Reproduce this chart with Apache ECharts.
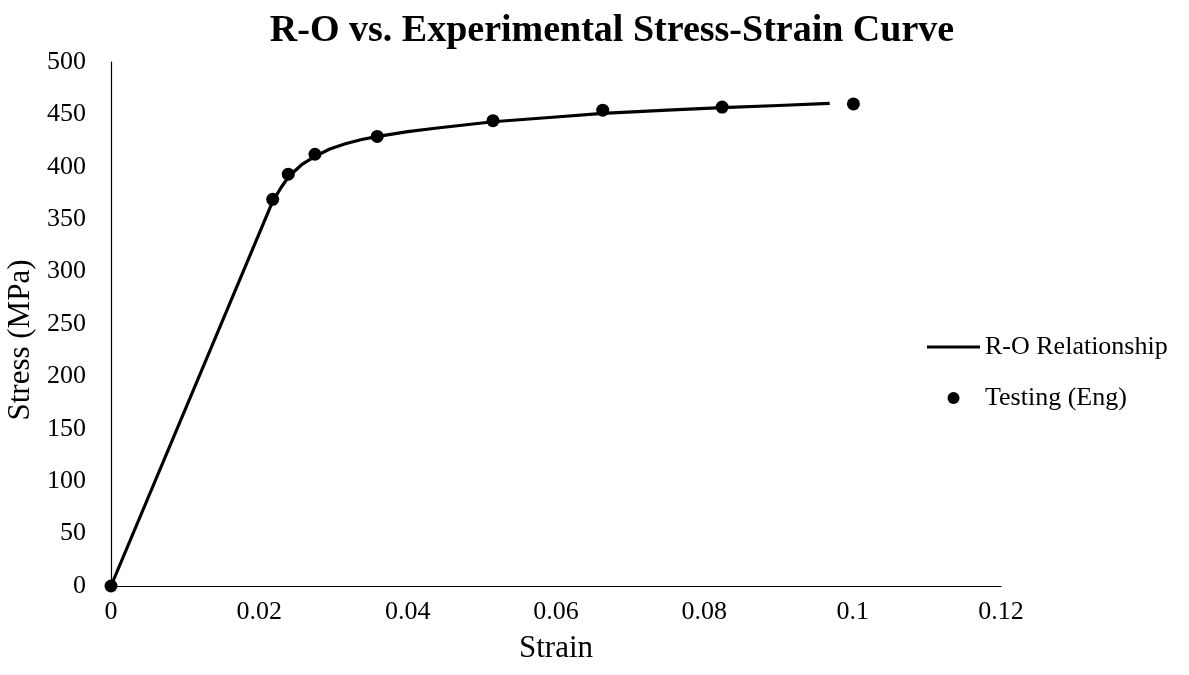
<!DOCTYPE html>
<html>
<head>
<meta charset="utf-8">
<script src="https://cdn.jsdelivr.net/npm/echarts@6/dist/echarts.min.js"></script>
<style>
html,body{margin:0;padding:0;background:#fff;}
#chart{width:1189px;height:675px;}
</style>
</head>
<body>
<div id="chart"></div>
<script>
// R-O relationship curve (strain, stress MPa)
const roStrain = [0, 0.0218, 0.023, 0.024, 0.0257, 0.0275, 0.0295, 0.0316, 0.0338, 0.036, 0.040, 0.044, 0.0515, 0.060, 0.0663, 0.075, 0.0824, 0.090, 0.0969];
const roStress = [0, 367, 381, 391, 402, 410, 417, 422, 426, 429, 433.5, 437, 443, 447.5, 451, 454, 456.5, 458.5, 460.5];
// Testing (Eng) points
const testStrain = [0, 0.0218, 0.0239, 0.0275, 0.0359, 0.0515, 0.0663, 0.0824, 0.1001];
const testStress = [0, 369, 393, 412, 429, 444, 454, 457, 460];

const xTicks = [0, 0.02, 0.04, 0.06, 0.08, 0.1, 0.12];
const yTicks = [0, 50, 100, 150, 200, 250, 300, 350, 400, 450, 500];

const font = "'Liberation Serif', 'Times New Roman', serif";
const chart = echarts.init(document.getElementById('chart'), null, {renderer: 'canvas'});
chart.setOption({
  backgroundColor: '#fff',
  animation: false,
  textStyle: {fontFamily: font, color: '#000'},
  title: {
    text: 'R-O vs. Experimental Stress-Strain Curve',
    left: 607, top: 7, textAlign: 'center',
    textStyle: {fontFamily: font, fontSize: 38, fontWeight: 'bold', color: '#000'}
  },
  grid: {left: 111, right: 188, top: 62, bottom: 89, containLabel: false, outerBoundsMode: 'none'},
  legend: {
    orient: 'vertical', left: 922, top: 329,
    itemWidth: 53, itemHeight: 12, itemGap: 25,
    textStyle: {fontFamily: font, fontSize: 26, color: '#000'},
    data: [
      {name: 'R-O Relationship', icon: 'path://M0,0H53V3.2H0Z', itemStyle: {color: '#000', borderWidth: 0}},
      {name: 'Testing (Eng)', icon: 'circle', itemStyle: {color: '#000', opacity: 1}}
    ]
  },
  xAxis: {
    type: 'value', min: 0, max: 0.12, interval: 0.02,
    name: 'Strain', nameLocation: 'middle', nameGap: 47,
    nameTextStyle: {fontFamily: font, fontSize: 31, color: '#000'},
    axisLine: {show: true, lineStyle: {color: '#000', width: 1.2}},
    axisTick: {show: false},
    splitLine: {show: false},
    axisLabel: {fontFamily: font, fontSize: 26, color: '#000', margin: 13,
      formatter: v => { const m = xTicks.find(t => Math.abs(t - v) < 1e-9); return m === undefined ? '' : String(m); }}
  },
  yAxis: {
    type: 'value', min: 0, max: 500, interval: 50,
    name: 'Stress (MPa)', nameLocation: 'middle', nameGap: 67,
    nameTextStyle: {fontFamily: font, fontSize: 31, color: '#000', padding: [0, 32, 0, 0]},
    axisLine: {show: true, lineStyle: {color: '#000', width: 1.2}},
    axisTick: {show: false},
    splitLine: {show: false},
    axisLabel: {fontFamily: font, fontSize: 26, color: '#000', margin: 25,
      formatter: v => { const m = yTicks.find(t => Math.abs(t - v) < 1e-9); return m === undefined ? '' : String(m); }}
  },
  series: [
    {
      name: 'R-O Relationship', type: 'line', symbol: 'none', smooth: false,
      lineStyle: {color: '#000', width: 3.2, join: 'round', cap: 'butt'},
      itemStyle: {color: '#000'},
      data: roStrain.map((x, i) => [x, roStress[i]]),
      z: 2
    },
    {
      name: 'Testing (Eng)', type: 'scatter', symbol: 'circle', symbolSize: 13,
      itemStyle: {color: '#000', opacity: 1},
      data: testStrain.map((x, i) => [x, testStress[i]]),
      z: 3
    }
  ]
});
</script>
</body>
</html>
